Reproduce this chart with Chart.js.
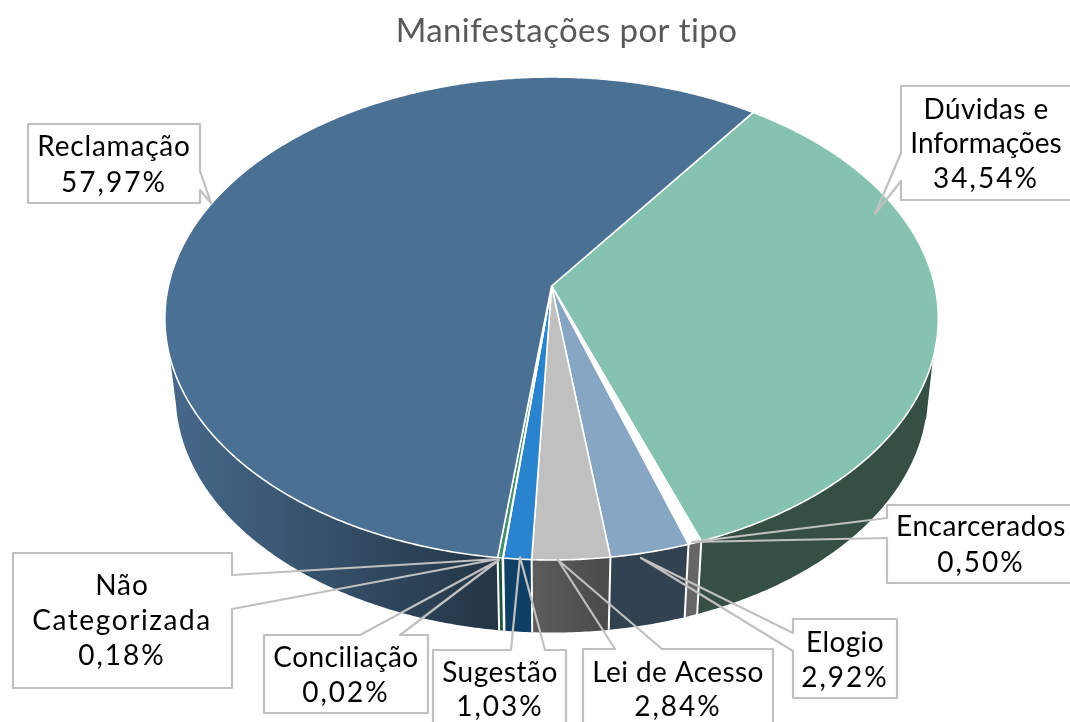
<!DOCTYPE html>
<html lang="pt">
<head>
<meta charset="utf-8">
<title>Manifestações por tipo</title>
<script src="https://cdn.jsdelivr.net/npm/chart.js@4"></script>
<style>html,body{margin:0;padding:0;background:#fff}canvas{display:block}</style>
</head>
<body>
<canvas id="c" width="1070" height="722"></canvas>
<script>
const chartTitle = 'Manifestações por tipo';
const categories = ['Dúvidas e Informações','Encarcerados','Elogio','Lei de Acesso','Sugestão','Conciliação','Não Categorizada','Reclamação'];
const values = [34.54,0.50,2.92,2.84,1.03,0.02,0.18,57.97];
const faceColors = ['#85c3b0','#ffffff','#87a6c3','#c0c0c0','#2a84cd','#4f81bd','#3f8f70','#4a7094'];
const wallColors = [['#364f44','#364f44'],['#666666','#666666'],['#334250','#334250'],['#5c5c5c','#4a4a4a'],['#103f66','#103f66'],['#2a4a66','#2a4a66'],['#1f5540','#1f5540'],['#46688a','#233545']];
const labelLines = [['Dúvidas e','Informações'],['Encarcerados'],['Elogio'],['Lei de Acesso'],['Sugestão'],['Conciliação'],['Não','Categorizada'],['Reclamação']];

// callout layout (pixels): box, wedge base points on box edge, tip, text centre, baselines, letter spacing per line
const callouts = [
 {box:[901,86,1073,200],path:[[901,153],[875,214],[901,181]],side:'l',cx:986,base:[119,153,188],ls:[0.4,0,2]},
 {box:[887,505,1073,583],path:[[887,518],[692,542],[887,538]],side:'l',cx:981,base:[536,572],ls:[0.5,2]},
 {box:[793,619,897,698],path:[[793,633],[641,558],[793,651]],side:'l',cx:845,base:[652,687],ls:[0.4,2]},
 {box:[583,649,773,730],path:[[615,649],[558,560],[662,649]],side:'t',cx:678,base:[682,716],ls:[0.4,2]},
 {box:[433,650,566,730],path:[[511,650],[520,557],[545,650]],side:'t',cx:500,base:[682,716],ls:[0.5,2]},
 {box:[264,635,428,713],path:[[360,635],[499,560],[400,635]],side:'t',cx:346,base:[667,702],ls:[0.45,2]},
 {box:[13,553,232,688],path:[[232,575],[498,559],[232,609]],side:'r',cx:122,base:[595,630,665],ls:[1,1.6,2]},
 {box:[28,124,200,203],path:[[200,171],[211,203],[200,190]],side:'r',cx:114,base:[156,192],ls:[0.8,2]}
];

// perspective of the disc: unit circle -> screen
const K=-0.1346, A=383.2, B=198.6, X0=551.6, Y0=286;
function topPt(a){const u=Math.cos(a),v=Math.sin(a),w=1+K*v;return [X0+A*u/w,(B*v+Y0)/w];}
function basePt(a){
 const p=topPt(a);
 let x=551.5+(p[0]-551.5)*0.972;
 const y=394+(p[1]-318)*0.986;
 if(y>=358&&y<420){
  if(x<551) x=Math.min(x,170+(y-358)*8/62);
  else x=Math.max(x,933-(y-358)*7/62);
 }
 return [x,y];
}
function arcPts(fn,s,e){const n=Math.max(2,Math.ceil((e-s)/0.008));const r=[];for(let i=0;i<=n;i++)r.push(fn(s+(e-s)*i/n));return r;}

const pie3d={
 id:'pie3d',
 beforeDraw(chart){chart.ctx.letterSpacing='0.4px';},
 beforeDatasetsDraw(chart){
  const ctx=chart.ctx, arcs=chart.getDatasetMeta(0).data;
  ctx.save();
  ctx.letterSpacing='0px';
  ctx.lineJoin='round';
  // walls
  arcs.forEach((arc,i)=>{
   const {startAngle:s,endAngle:e}=arc.getProps(['startAngle','endAngle'],true);
   const t=arcPts(topPt,s,e), b=arcPts(basePt,s,e).reverse();
   const big=(e-s)>1;
   const x0=big?170:Math.min(t[0][0],t[t.length-1][0]), x1=big?500:Math.max(t[0][0],t[t.length-1][0]);
   const g=ctx.createLinearGradient(x0,0,x1,0);
   g.addColorStop(0,wallColors[i][0]);g.addColorStop(1,wallColors[i][1]);
   ctx.beginPath();
   t.concat(b).forEach((p,k)=>k?ctx.lineTo(p[0],p[1]):ctx.moveTo(p[0],p[1]));
   ctx.closePath();ctx.fillStyle=g;ctx.fill();
  });
  // wall seams
  ctx.strokeStyle='#fff';ctx.lineWidth=2;
  arcs.forEach(arc=>{
   const {startAngle:s}=arc.getProps(['startAngle'],true);
   if(Math.sin(s)>0){const p=topPt(s),q=basePt(s);ctx.beginPath();ctx.moveTo(p[0],p[1]);ctx.lineTo(q[0],q[1]);ctx.stroke();}
  });
  // top faces
  ctx.lineWidth=1.6;
  arcs.forEach((arc,i)=>{
   const {startAngle:s,endAngle:e}=arc.getProps(['startAngle','endAngle'],true);
   ctx.beginPath();ctx.moveTo(X0,Y0);
   arcPts(topPt,s,e).forEach(p=>ctx.lineTo(p[0],p[1]));
   ctx.closePath();ctx.fillStyle=arc.options.backgroundColor;ctx.fill();ctx.stroke();
  });
  // callouts
  ctx.font='28px Lato';ctx.textAlign='center';ctx.textBaseline='alphabetic';
  callouts.forEach((c,i)=>{
   const [l,t,r,b]=c.box, P=c.path;
   ctx.beginPath();
   if(c.side==='l'){ctx.moveTo(l,t);ctx.lineTo(r,t);ctx.lineTo(r,b);ctx.lineTo(l,b);ctx.lineTo(...P[2]);ctx.lineTo(...P[1]);ctx.lineTo(...P[0]);}
   else if(c.side==='r'){ctx.moveTo(l,t);ctx.lineTo(r,t);ctx.lineTo(...P[0]);ctx.lineTo(...P[1]);ctx.lineTo(...P[2]);ctx.lineTo(r,b);ctx.lineTo(l,b);}
   else {ctx.moveTo(l,t);ctx.lineTo(...P[0]);ctx.lineTo(...P[1]);ctx.lineTo(...P[2]);ctx.lineTo(r,t);ctx.lineTo(r,b);ctx.lineTo(l,b);}
   ctx.closePath();
   ctx.strokeStyle='#c0c0c0';ctx.lineWidth=2.2;ctx.stroke();
   ctx.fillStyle='#000';
   const lines=labelLines[i].concat(values[i].toFixed(2).replace('.',',')+'%');
   lines.forEach((s,k)=>{
    ctx.letterSpacing=c.ls[k]+'px';
    ctx.fillText(s,c.cx,c.base[k]);
   });
  });
  ctx.restore();
  return false;
 }
};

new Chart(document.getElementById('c'),{
 type:'pie',
 data:{labels:categories,datasets:[{data:values,backgroundColor:faceColors,borderWidth:0}]},
 options:{
  responsive:false,animation:false,rotation:35.7,
  layout:{padding:{left:63,top:12}},
  plugins:{
   legend:{display:false},tooltip:{enabled:false},
   title:{display:true,text:chartTitle,color:'#595959',font:{family:'Lato',size:33,weight:'normal'},padding:{top:0,bottom:0}}
  }
 },
 plugins:[pie3d]
});
</script>
</body>
</html>
